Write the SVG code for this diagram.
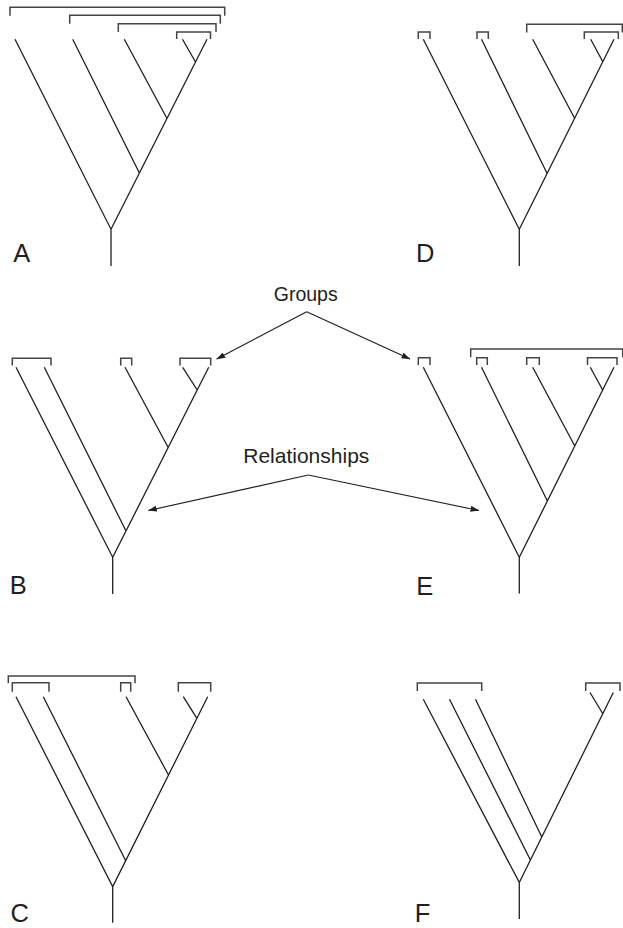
<svg xmlns="http://www.w3.org/2000/svg" width="623" height="928" viewBox="0 0 623 928">
<style>
.br{fill:none;stroke:#444;stroke-width:1.5}
.ln{fill:none;stroke:#231f20;stroke-width:1.3}
.lb{font-family:"Liberation Sans",Arial,sans-serif;font-size:25.5px;fill:#231f20}
.tx{font-family:"Liberation Sans",Arial,sans-serif;fill:#231f20;text-anchor:middle}
.ar{fill:none;stroke:#231f20;stroke-width:1.2}
</style>
<defs>
<marker id="ah" markerWidth="9" markerHeight="6" refX="8.5" refY="3" orient="auto" markerUnits="userSpaceOnUse">
<path d="M0,0 L9,3 L0,6 Z" fill="#231f20"/>
</marker>
</defs>
<rect width="623" height="928" fill="#fff"/>

<g id="treeA">
<path class="ln" d="M111,266 V229.3 L15,39.3 M111,229.3 L207,39.3 M139.4,173 L72.7,39.3 M167,118.5 L124.3,39.3 M195.5,62 L182.5,39.3"/>
<path class="br" d="M10,15.7 V7.3 H224.7 V15.7 M69.7,23.7 V15.3 H220.3 V23.7 M118.3,32 V23.7 H216 V32 M176.7,39 V32 H210.5 V39"/>
<text class="lb" x="13.3" y="261.7">A</text>
</g>

<g id="treeD">
<path class="ln" d="M519.3,266 V229.3 L423.3,39.3 M519.3,229.3 L614,39.3 M547.1,173.5 L481.5,39.3 M574.6,118.3 L532.7,39.3 M602.8,61.7 L590.7,39.3"/>
<path class="br" d="M418.3,39 V32 H430 V39 M477,39 V32 H488.3 V39 M526.7,32.5 V24.3 H622.3 V32.5 M584.3,39 V32 H618.3 V39"/>
<text class="lb" x="416" y="262">D</text>
</g>

<g id="treeB">
<path class="ln" d="M112.7,594 V557.3 L16,367.3 M112.7,557.3 L208.7,367.3 M126,531 L44.3,367.3 M168.2,447.5 L125,367.3 M197.2,390 L182.7,367.3"/>
<path class="br" d="M12.3,365.5 V358.3 H51 V365.5 M120.7,365.5 V358.3 H131.7 V365.5 M180,365.5 V358.3 H210.7 V365.5"/>
<text class="lb" x="9.7" y="594">B</text>
</g>

<g id="treeE">
<path class="ln" d="M519.3,593.5 V557.3 L423.3,367.3 M519.3,557.3 L614,367.3 M547.4,501 L481.5,367.3 M574.8,446 L532.7,367.3 M602.7,390 L590.3,367.3"/>
<path class="br" d="M418.3,365 V357.7 H430 V365 M470.7,357.3 V349 H622.7 V357.3 M476.7,365 V357.7 H487.3 V365 M526.7,365 V357.7 H539.3 V365 M587.5,365 V357.7 H617 V365"/>
<text class="lb" x="416.3" y="595">E</text>
</g>

<g id="treeC">
<path class="ln" d="M112.7,922.7 V886.6 L16,696.7 M112.7,886.6 L207.7,696.7 M125.7,860.7 L43.3,696.7 M168.5,775 L126,696.7 M196.9,718.3 L183.3,696.7"/>
<path class="br" d="M8.3,683.3 V676 H135 V683.3 M12.3,691.7 V682.7 H49 V691.7 M120.7,691.7 V682.7 H130.7 V691.7 M178.3,691.7 V682.7 H210.7 V691.7"/>
<text class="lb" x="10.5" y="922">C</text>
</g>

<g id="treeF">
<path class="ln" d="M519.3,919 V882.5 L423.3,699.3 M519.3,882.5 L613.3,692.5 M530.4,860 L449.5,699.3 M541.8,837 L475.5,699.3 M602.7,713.5 L590,692.5"/>
<path class="br" d="M417.3,691 V683 H481.7 V691 M585.7,691 V683 H620 V691"/>
<text class="lb" x="414.7" y="921.7">F</text>
</g>

<g id="connectors">
<path class="ar" d="M306.7,311.7 L216.7,359" marker-end="url(#ah)"/>
<path class="ar" d="M306.7,311.7 L410,359" marker-end="url(#ah)"/>
<path class="ar" d="M308.3,475 L148.3,510.5" marker-end="url(#ah)"/>
<path class="ar" d="M308.3,475 L479,510.5" marker-end="url(#ah)"/>
</g>

<g id="labels">
<text class="tx" x="305.7" y="300.7" font-size="19.5">Groups</text>
<text class="tx" x="306.3" y="463.3" font-size="21">Relationships</text>
</g>
</svg>
